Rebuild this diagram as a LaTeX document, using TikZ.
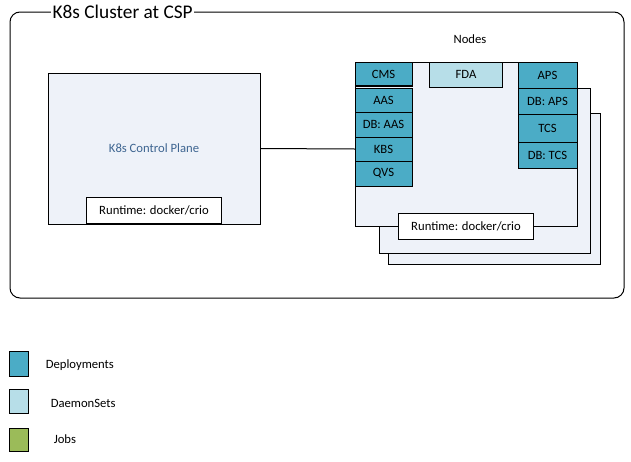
\documentclass[tikz,border=0pt]{standalone}
\usepackage{fontspec}
\setmainfont{Carlito}
\usetikzlibrary{positioning}
\definecolor{deploy}{HTML}{4BACC6}
\definecolor{daemon}{HTML}{B7DEE8}
\definecolor{jobs}{HTML}{9BBB59}
\definecolor{hostfill}{HTML}{EEF2F9}
\definecolor{cptext}{HTML}{3E6591}
\tikzstyle{hostbox}=[rectangle, draw=black, fill=hostfill, line width=0.75pt,
                    inner sep=0pt, outer sep=0pt, anchor=north west]
\tikzstyle{rtbox}=[rectangle, draw=black, fill=white, line width=0.75pt,
                    inner sep=0pt, minimum width=101pt, minimum height=19.5pt,
                    font=\fontsize{9.5}{11}\selectfont]
\tikzstyle{dbox}=[rectangle, draw=black, fill=deploy, line width=0.75pt,
                    inner sep=0pt, outer sep=0pt, minimum width=42.75pt,
                    minimum height=18pt, font=\fontsize{9.5}{11}\selectfont]
\tikzstyle{legbox}=[rectangle, draw=black, line width=0.75pt, inner sep=0pt,
                    minimum width=14.25pt, minimum height=18pt]
\tikzstyle{legtext}=[inner sep=0pt, font=\fontsize{9.5}{11}\selectfont]
\tikzstyle{pline}=[-, line width=0.75pt]

\begin{document}
\begin{tikzpicture}[x=0.75pt, y=-0.75pt]
\useasboundingbox (0,0) rectangle (631,461);

% cluster frame
\draw[pline, rounded corners=7.5pt] (10,12) rectangle (624,298);
\node (TITLE) [anchor=west, fill=white, inner sep=1pt,
  font=\fontsize{14.5}{16}\selectfont] at (51,12) {K8s Cluster at CSP};

% control plane
\node (CP) [hostbox, minimum width=159pt, minimum height=113.25pt] at (48,73) {};
\node (CPTXT) [text=cptext, font=\fontsize{9.5}{11}\selectfont] at (CP.center) {K8s Control Plane};
\node (CPRT) [rtbox, anchor=south] at (CP.south) {Runtime: docker/crio};

% worker nodes
\node (NODEC) [hostbox, minimum width=159pt, minimum height=113.25pt] at (388,113) {};
\node (NODEB) [hostbox, minimum width=158.25pt, minimum height=123.75pt] at (379,88) {};
\node (NODEA) [hostbox, minimum width=166.5pt, minimum height=123pt] at (355,62) {};
\node (NODES) [font=\fontsize{9.5}{11}\selectfont] at (470,39) {Nodes};
\node (NODERT) [rtbox] at (NODEA.south) {Runtime: docker/crio};

% deployments, left column
\node (CMS) [dbox, anchor=north west] at (NODEA.north west) {CMS};
\draw[line width=1.5pt] (CMS.south west) -- (CMS.south east);
\node (AAS) [dbox, below=1.5pt of CMS] {AAS};
\node (DBAAS) [dbox, below=0pt of AAS, minimum height=18.75pt] {DB: AAS};
\node (KBS) [dbox, below=0pt of DBAAS] {KBS};
\node (QVS) [dbox, below=0pt of KBS, minimum height=18.75pt] {QVS};

% daemonset
\node (FDA) [dbox, fill=daemon, anchor=north, minimum width=54.75pt,
  minimum height=18.75pt] at (NODEA.north) {FDA};

% deployments, right column
\node (APS) [dbox, anchor=north east, minimum width=44.25pt, minimum height=19.5pt] at (NODEA.north east) {APS};
\node (DBAPS) [dbox, below=0pt of APS, minimum width=44.25pt, minimum height=19.5pt] {DB: APS};
\node (TCS) [dbox, below=0pt of DBAPS, minimum width=44.25pt, minimum height=21pt] {TCS};
\node (DBTCS) [dbox, below=0pt of TCS, minimum width=44.25pt, minimum height=19.5pt] {DB: TCS};

\draw[pline] (CP.east) -- (KBS.west);

% legend
\node (DEP) [legbox, fill=deploy, minimum height=18.75pt] at (18.5,363.5) {};
\node (DEPTXT) [legtext, right=12.75pt of DEP, yshift=-1.5pt] {Deployments};
\node (DS) [legbox, fill=daemon] at (18.5,401) {};
\node (DSTXT) [legtext, right=16.5pt of DS, yshift=-1.5pt] {DaemonSets};
\node (JOB) [legbox, fill=jobs, minimum height=17.25pt] at (18.5,439.5) {};
\node (JOBTXT) [legtext, right=18.75pt of JOB] {Jobs};

\end{tikzpicture}
\end{document}
